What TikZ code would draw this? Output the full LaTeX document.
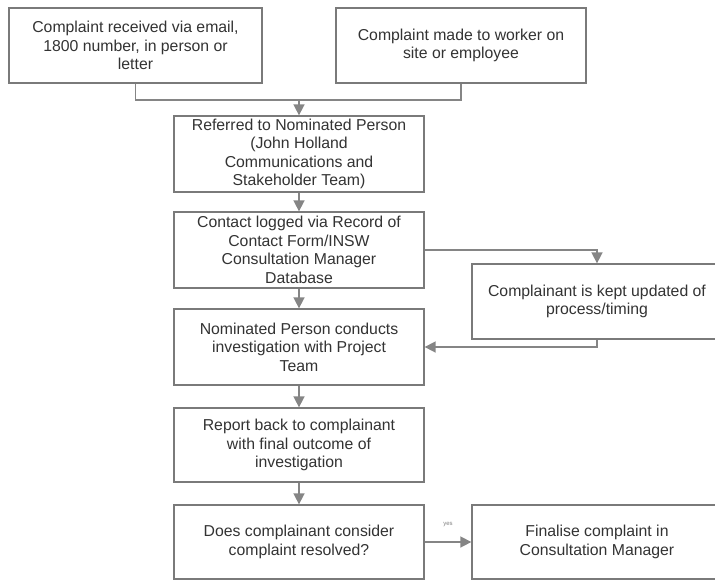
\documentclass[tikz,border=0pt]{standalone}
\usepackage{fontspec}
\setmainfont{Liberation Sans}
\usetikzlibrary{arrows.meta}
\definecolor{boxline}{HTML}{7A7A7A}
\definecolor{conline}{HTML}{858585}
\definecolor{txt}{HTML}{333333}
\begin{document}
\begin{tikzpicture}[x=1pt,y=-1pt,
  box/.style={draw=boxline, line width=1.3pt, fill=white, minimum width=250pt, inner sep=0pt,
    align=center, text=txt, font=\fontsize{15.8}{18.5}\selectfont},
  conn/.style={draw=conline, line width=1.6pt},
  arr/.style={conn, -{Triangle[length=11pt,width=11pt]}}]
\useasboundingbox (0,0) rectangle (715,581);
\clip (0,0) rectangle (715,581);
\node[box, minimum width=253pt, minimum height=75pt] (b1) at (135.5,45.5) {Complaint received via email,\\1800 number, in person or\\letter};
\node[box, minimum height=75pt] (b2) at (461,45.5) {Complaint made to worker on\\site or employee};
\node[box, minimum height=76pt] (ref) at (299,154) {Referred to Nominated Person\\(John Holland\\Communications and\\Stakeholder Team)};
\node[box, minimum height=76pt] (con) at (299,250) {Contact logged via Record of\\Contact Form/INSW\\Consultation Manager\\Database};
\node[box, minimum height=76pt] (nom) at (299,347) {Nominated Person conducts\\investigation with Project\\Team};
\node[box, minimum height=74pt] (rep) at (299,445) {Report back to complainant\\with final outcome of\\investigation};
\node[box, minimum height=74pt] (does) at (299,542) {Does complainant consider\\complaint resolved?};
\node[box, minimum height=75pt] (comp) at (597,301.5) {Complainant is kept updated of\\process/timing};
\node[box, minimum height=74pt] (fin) at (597,542) {Finalise complaint in\\Consultation Manager};
\coordinate (j) at (299,100);
\draw[conn] (b1.south) |- (j);
\draw[conn] (b2.south) |- (j);
\draw[arr] (j) -- (ref.north);
\draw[arr] (ref) -- (con);
\draw[arr] (con) -- (nom);
\draw[arr] (nom) -- (rep);
\draw[arr] (rep) -- (does);
\draw[arr] (con.east) -| (comp.north);
\draw[arr] (comp.south) |- (nom.east);
\draw[arr] (does.east) -- node[above=11pt, text=gray, font=\fontsize{6}{7}\selectfont] (yl) {yes} (fin.west);
\end{tikzpicture}
\end{document}
